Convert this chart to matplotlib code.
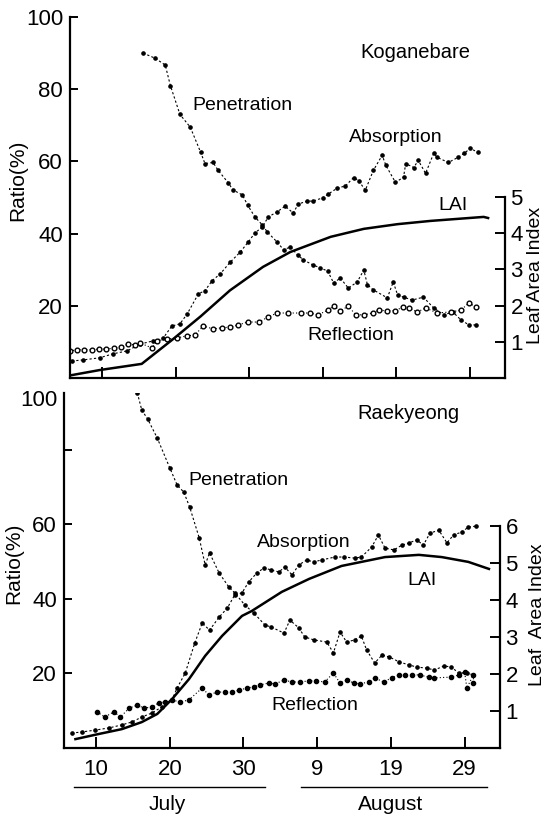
import matplotlib
matplotlib.use("Agg")
import matplotlib.pyplot as plt
import matplotlib.transforms as mtransforms

plt.rcParams['font.family'] = ['Liberation Sans', 'DejaVu Sans']

# ---- Koganebare (top panel) ----
kog_pen_day = [15.6, 17.2, 18.6, 19.3, 20.6, 22.0, 23.4, 24.0, 25.1, 25.8, 27.2, 27.8, 29.1,
               29.8, 30.8, 31.8, 32.5, 33.8, 34.7, 35.6, 36.6, 37.4, 38.7, 39.7, 40.7, 41.5,
               42.4, 43.5, 44.7, 45.6, 46.1, 46.9, 48.8, 49.6, 50.2, 51.0, 52.2, 53.7, 55.1,
               56.5, 57.7, 58.8, 59.9, 60.8]
kog_pen = [90.0, 88.6, 86.7, 81.0, 73.0, 69.5, 62.6, 59.4, 59.7, 57.5, 54.0, 52.1, 50.7,
           47.9, 44.6, 42.4, 40.4, 37.7, 35.5, 36.3, 34.1, 32.7, 31.3, 30.5, 29.6, 26.3,
           27.7, 24.9, 26.6, 29.9, 25.8, 24.4, 22.2, 26.6, 23.0, 22.4, 21.6, 22.4, 19.4,
           17.5, 18.3, 16.1, 14.7, 14.7]

kog_abs_day = [5.9, 7.4, 9.7, 11.5, 13.4, 15.2, 17.0, 18.3, 19.5, 20.6, 21.6, 23.1, 24.0, 25.0,
               26.1, 27.4, 28.8, 29.9, 30.8, 31.8, 32.6, 33.8, 34.9, 36.0, 36.7, 37.9, 38.7,
               40.0, 40.8, 42.0, 43.1, 44.2, 44.9, 45.8, 46.9, 48.1, 48.6, 49.9, 51.0, 51.3,
               52.4, 53.0, 54.0, 55.1, 55.6, 57.1, 58.4, 59.2, 60.1, 61.1]
kog_abs = [4.7, 5.0, 5.6, 6.7, 7.5, 9.4, 10.3, 11.0, 14.4, 15.0, 17.8, 23.3, 24.2, 27.0,
           28.9, 32.0, 34.9, 37.7, 40.2, 41.8, 44.6, 46.0, 47.6, 45.7, 48.2, 49.0, 49.0,
           49.9, 51.0, 52.6, 53.2, 55.5, 54.7, 52.0, 57.5, 61.7, 58.9, 54.2, 55.6, 59.4,
           58.3, 60.3, 56.7, 62.2, 61.1, 59.7, 61.1, 62.2, 63.6, 62.5]

kog_ref_day = [5.6, 6.6, 7.6, 8.6, 9.6, 10.6, 11.6, 12.6, 13.5, 14.5, 15.2, 16.8, 17.5, 18.9,
               20.2, 21.6, 22.6, 23.8, 25.1, 26.3, 27.4, 28.5, 29.8, 31.3, 32.6, 33.8, 35.3,
               37.0, 38.3, 39.4, 40.7, 41.5, 42.4, 43.5, 44.5, 45.6, 46.8, 47.6, 48.8, 49.9,
               50.9, 51.7, 52.9, 54.0, 55.6, 57.4, 58.8, 59.9, 60.8]
kog_ref = [7.5, 7.8, 7.8, 7.8, 8.0, 8.0, 8.3, 8.6, 9.4, 9.2, 9.7, 8.3, 10.3, 10.8,
           11.1, 11.7, 11.9, 14.4, 13.6, 13.9, 14.1, 14.7, 15.5, 15.5, 16.9, 18.0, 18.0,
           18.0, 18.0, 17.5, 18.8, 19.9, 18.6, 19.9, 17.5, 17.5, 18.0, 18.8, 18.6, 18.6,
           19.7, 19.4, 18.3, 19.4, 18.0, 18.3, 18.8, 20.8, 19.7]

kog_lai_day = [5.9, 9.7, 15.4, 19.7, 23.4, 27.4, 31.9, 35.6, 41.1, 45.6, 50.2, 54.7, 61.9, 62.5]
kog_lai = [0.08, 0.22, 0.39, 1.08, 1.70, 2.42, 3.07, 3.48, 3.90, 4.12, 4.25, 4.34, 4.45, 4.42]

# ---- Raekyeong (bottom panel) ----
rae_pen_day = [15.6, 16.2, 17.0, 18.3, 20.0, 21.0, 21.9, 22.7, 24.0, 24.8, 25.4, 26.7, 28.0,
               28.8, 30.2, 31.4, 32.9, 33.8, 35.5, 36.3, 37.5, 38.3, 39.5, 41.3, 42.2, 43.1,
               44.0, 45.1, 46.0, 46.7, 47.8, 48.8, 49.8, 51.1, 52.4, 53.5, 54.9, 55.9, 57.2,
               58.2, 59.2, 60.3, 61.2]
rae_pen = [95.2, 90.6, 88.2, 83.1, 75.1, 70.5, 68.6, 64.6, 56.3, 49.1, 52.3, 46.9, 43.2,
           41.6, 38.3, 36.2, 33.0, 32.4, 30.8, 34.3, 32.2, 29.8, 29.0, 28.4, 25.5, 31.1,
           28.4, 29.0, 30.0, 26.3, 22.8, 24.9, 24.4, 23.1, 22.3, 21.7, 21.4, 20.9, 22.0,
           21.7, 20.1, 20.1, 19.6]

rae_abs_day = [6.7, 8.1, 9.9, 11.8, 13.5, 14.9, 16.2, 17.6, 18.9, 20.3, 21.0, 22.1, 23.4, 24.4,
               25.4, 26.7, 27.8, 28.8, 29.8, 30.7, 31.8, 32.8, 33.8, 34.8, 35.6, 36.6, 37.5,
               38.6, 39.5, 40.6, 42.4, 43.7, 45.1, 46.0, 47.4, 48.3, 49.2, 50.4, 51.5, 52.5,
               53.5, 54.4, 55.3, 56.5, 57.6, 58.5, 59.6, 60.5, 61.6]
rae_abs = [4.0, 4.3, 4.8, 5.4, 6.2, 7.0, 8.3, 9.4, 11.0, 12.9, 16.1, 20.1, 28.2, 33.5,
           31.6, 35.1, 37.5, 41.0, 41.6, 44.5, 46.9, 48.3, 47.7, 47.2, 48.5, 46.4, 49.1,
           50.4, 49.9, 50.4, 51.2, 51.2, 50.9, 51.2, 53.9, 57.1, 53.6, 53.1, 54.4, 55.0,
           55.8, 54.4, 57.6, 58.4, 55.0, 57.1, 57.9, 59.2, 59.5]

rae_ref_day = [10.1, 11.2, 12.4, 13.3, 14.5, 15.6, 16.5, 17.6, 18.5, 19.3, 20.3, 21.4, 22.6,
               24.4, 25.3, 26.4, 27.5, 28.4, 29.4, 30.5, 31.4, 32.2, 33.4, 34.3, 35.5, 36.6,
               37.6, 38.9, 39.9, 41.0, 42.2, 43.1, 44.0, 45.0, 45.8, 47.0, 47.8, 49.0, 50.1,
               51.1, 51.9, 52.8, 53.9, 55.1, 55.9, 58.2, 59.2, 60.0, 60.3, 61.2, 61.2]
rae_ref = [9.7, 8.3, 9.7, 8.3, 10.7, 11.5, 10.7, 11.0, 12.1, 12.3, 12.9, 12.3, 12.9,
           16.1, 14.2, 15.0, 15.0, 15.0, 15.5, 16.1, 16.4, 16.9, 17.4, 17.2, 18.2, 17.7,
           17.7, 18.0, 18.0, 17.7, 20.1, 17.4, 18.2, 17.4, 17.2, 17.7, 18.8, 17.7, 18.8,
           19.6, 19.6, 19.6, 19.6, 19.0, 18.8, 19.0, 19.6, 20.4, 16.1, 19.6, 17.4]

rae_lai_day = [7.2, 10.4, 13.5, 16.2, 18.3, 20.3, 22.6, 24.8, 27.1, 29.8, 31.1, 35.2, 38.9,
               43.3, 49.2, 53.8, 56.9, 60.5, 63.3]
rae_lai = [0.24, 0.38, 0.51, 0.70, 0.92, 1.32, 1.86, 2.49, 3.03, 3.57, 3.70, 4.22, 4.57,
           4.92, 5.16, 5.22, 5.16, 5.03, 4.84]

day_ticks = [10, 20, 30, 40, 50, 60]
day_labels = ['10', '20', '30', '9', '19', '29']

W, H = 549, 818
fig = plt.figure(figsize=(W / 100, H / 100), dpi=100)


def px_axes(left, right, bottom, top):
    return fig.add_axes([left / W, 1 - bottom / H, (right - left) / W, (bottom - top) / H])


def style(ax, ax2, lai_top):
    for s in ['top', 'right']:
        ax.spines[s].set_visible(False)
    for s in ['top', 'left', 'bottom']:
        ax2.spines[s].set_visible(False)
    ax.spines['left'].set_linewidth(1.6)
    ax.spines['bottom'].set_linewidth(1.6)
    ax2.spines['right'].set_linewidth(1.6)
    ax2.spines['right'].set_bounds(0, lai_top)
    ax.tick_params(axis='x', direction='in', length=8, width=1.4)
    ax.tick_params(axis='y', direction='in', length=6, width=1.4, labelsize=16, pad=5)
    ax2.tick_params(axis='y', direction='in', length=7, width=1.4, labelsize=16, pad=4)
    ax.set_xlim(5.65, 64.8)
    ax.set_xticks(day_ticks)


def draw(ax, ax2, pen_d, pen, abs_d, ab, ref_d, ref, lai_d, lai, open_ref):
    ax.plot(pen_d, pen, color='black', ls=(0, (2, 2)), lw=0.8, marker='o', ms=2.3)
    ax.plot(abs_d, ab, color='black', ls=(0, (2, 2)), lw=0.8, marker='o', ms=2.3)
    if open_ref:
        ax.plot(ref_d, ref, color='black', ls=(0, (1, 2)), lw=0.8, marker='o', ms=3.4,
                mfc='white', mew=1.0)
    else:
        ax.plot(ref_d, ref, color='black', ls=(0, (1, 2)), lw=0.8, marker='o', ms=3.0)
    ax2.plot(lai_d, lai, color='black', lw=1.8)


# top panel
ax1 = px_axes(70, 505, 378, 17)
ax1b = ax1.twinx()
ax1.set_ylim(0, 100)
ax1b.set_ylim(0, 361 / 36.2)
style(ax1, ax1b, 5)
ax1.set_yticks([20, 40, 60, 80, 100])
ax1b.set_yticks([1, 2, 3, 4, 5])
ax1.set_xticklabels([])
draw(ax1, ax1b, kog_pen_day, kog_pen, kog_abs_day, kog_abs, kog_ref_day, kog_ref,
     kog_lai_day, kog_lai, True)
ax1.text(52.6, 90.3, 'Koganebare', fontsize=14.5, ha='center', va='center')
ax1.text(22.3, 75.6, 'Penetration', fontsize=14, ha='left', va='center')
ax1.text(49.9, 66.5, 'Absorption', fontsize=14, ha='center', va='center')
ax1.text(57.7, 47.9, 'LAI', fontsize=14, ha='center', va='center')
ax1.text(43.8, 11.9, 'Reflection', fontsize=14, ha='center', va='center')

# bottom panel
ax2 = px_axes(64, 500, 748, 393)
ax2b = ax2.twinx()
ax2.set_ylim(0, 355 / 3.73)
ax2b.set_ylim(0, 355 / 37.0)
style(ax2, ax2b, 6)
ax2.set_yticks([20, 40, 60, 80])
ax2.set_yticklabels(['20', '40', '60', ''])
ax2b.set_yticks([1, 2, 3, 4, 5, 6])
ax2.set_xticklabels(day_labels, fontsize=16)
ax2.tick_params(axis='x', pad=8)
draw(ax2, ax2b, rae_pen_day, rae_pen, rae_abs_day, rae_abs, rae_ref_day, rae_ref,
     rae_lai_day, rae_lai, False)
ax2.text(-0.016, 0.98, '100', transform=ax2.transAxes, fontsize=16, ha='right', va='center')
ax2.text(52.4, 89.8, 'Raekyeong', fontsize=14.5, ha='center', va='center')
ax2.text(22.5, 71.8, 'Penetration', fontsize=14, ha='left', va='center')
ax2.text(38.2, 55.2, 'Absorption', fontsize=14, ha='center', va='center')
ax2.text(54.2, 45.0, 'LAI', fontsize=14, ha='center', va='center')
ax2.text(39.7, 11.3, 'Reflection', fontsize=14, ha='center', va='center')

# month underlines and names
tr = mtransforms.blended_transform_factory(ax2.transData, ax2.transAxes)
ax2.plot([7.0, 32.9], [-0.11, -0.11], color='black', lw=1.0, transform=tr, clip_on=False)
ax2.plot([37.8, 63.0], [-0.11, -0.11], color='black', lw=1.0, transform=tr, clip_on=False)
ax2.text(19.6, -0.16, 'July', transform=tr, fontsize=15, ha='center', va='center')
ax2.text(50.0, -0.16, 'August', transform=tr, fontsize=15, ha='center', va='center')

# axis titles
fig.text(18 / W, 1 - 180 / H, 'Ratio(%)', rotation=90, fontsize=15, ha='center', va='center')
fig.text(14 / W, 1 - 563 / H, 'Ratio(%)', rotation=90, fontsize=15, ha='center', va='center')
fig.text(535 / W, 1 - 275 / H, 'Leaf Area Index', rotation=90, fontsize=14, ha='center', va='center')
fig.text(537 / W, 1 - 615 / H, 'Leaf  Area Index', rotation=90, fontsize=14, ha='center', va='center')

fig.savefig('out.png', dpi=100)
